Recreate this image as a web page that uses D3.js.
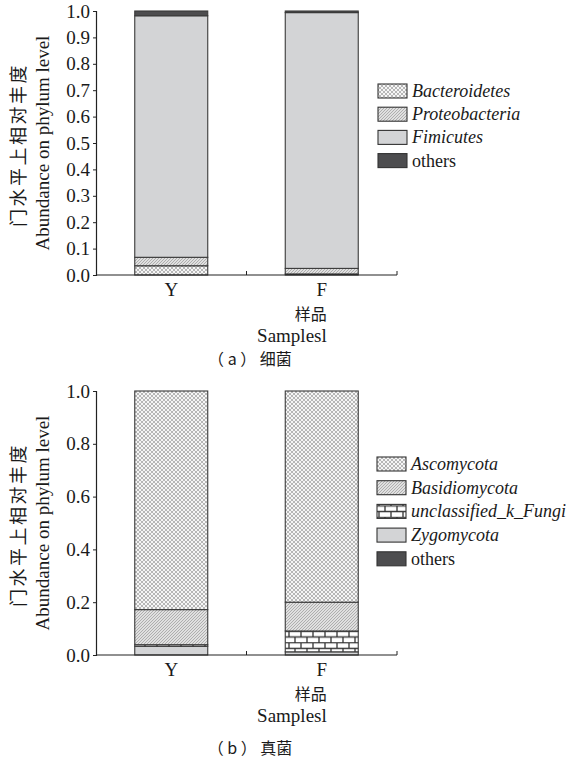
<!DOCTYPE html>
<html>
<head>
<meta charset="utf-8">
<script src="https://cdn.jsdelivr.net/npm/d3@7"></script>
<style>
  body { margin: 0; background: #fff; }
</style>
</head>
<body>
<div id="chart"></div>
<script>
// ---- data ----
const samples = ['Y', 'F'];

// (a) bacteria, stacked bottom -> top
const bacteriaKeys = ['Bacteroidetes', 'Proteobacteria', 'Fimicutes', 'others'];
const bacteriaY = [0.035, 0.032, 0.915, 0.018];
const bacteriaF = [0.004, 0.021, 0.969, 0.006];

// (b) fungi, stacked bottom -> top
const fungiKeys = ['Zygomycota', 'unclassified_k_Fungi', 'Basidiomycota', 'Ascomycota', 'others'];
const fungiY = [0.033, 0.006, 0.133, 0.828, 0.0];
const fungiF = [0.012, 0.079, 0.109, 0.800, 0.0];

// legend order (top -> bottom)
const bacteriaLegend = ['Bacteroidetes', 'Proteobacteria', 'Fimicutes', 'others'];
const fungiLegend = ['Ascomycota', 'Basidiomycota', 'unclassified_k_Fungi', 'Zygomycota', 'others'];

const ticksA = [0, 0.1, 0.2, 0.3, 0.4, 0.5, 0.6, 0.7, 0.8, 0.9, 1.0];
const ticksB = [0, 0.2, 0.4, 0.6, 0.8, 1.0];

const yLabelCn = '门水平上相对丰度';
const yLabelEn = 'Abundance on phylum level';
const xLabelCn = '样品';
const xLabelEn = 'Samplesl';

// ---- chart ----
const SERIF = 'Liberation Serif';
const CJK = 'Noto Sans CJK SC';

const W = 577, H = 759;
const svg = d3.select('#chart').append('svg').attr('width', W).attr('height', H);
const defs = svg.append('defs');

// 网格（菱形交叉线）
const cross = defs.append('pattern').attr('id', 'cross')
  .attr('patternUnits', 'userSpaceOnUse').attr('width', 4).attr('height', 4);
cross.append('rect').attr('width', 4).attr('height', 4).attr('fill', '#f6f6f6');
cross.append('path').attr('d', 'M0,0L4,4M0,4L4,0')
  .attr('stroke', '#959595').attr('stroke-width', 0.65);

// 斜线
const hatch = defs.append('pattern').attr('id', 'hatch')
  .attr('patternUnits', 'userSpaceOnUse').attr('width', 3).attr('height', 3);
hatch.append('rect').attr('width', 3).attr('height', 3).attr('fill', '#e0e0e0');
hatch.append('path').attr('d', 'M-1,1L1,-1M0,3L3,0M2,4L4,2')
  .attr('stroke', '#939393').attr('stroke-width', 0.65);

// 砖块
const brick = defs.append('pattern').attr('id', 'brick')
  .attr('patternUnits', 'userSpaceOnUse').attr('width', 12).attr('height', 11.4);
brick.append('rect').attr('width', 12).attr('height', 11.4).attr('fill', '#fff');
brick.append('path')
  .attr('d', 'M0,0.5H12M0,6.2H12M1,0.5V6.2M7,6.2V11.4')
  .attr('stroke', '#333').attr('stroke-width', 1.3);

const fills = {
  Bacteroidetes: 'url(#cross)',
  Ascomycota: 'url(#cross)',
  Proteobacteria: 'url(#hatch)',
  Basidiomycota: 'url(#hatch)',
  Fimicutes: '#d3d4d6',
  Zygomycota: '#d3d4d6',
  unclassified_k_Fungi: 'url(#brick)',
  others: '#4d4d4f'
};

function drawPanel(opt) {
  const g = svg.append('g').attr('transform', `translate(0,${opt.dy})`);
  const x = d3.scaleBand().domain(samples).range([96, 397]).paddingInner(0.515).paddingOuter(0.2575);
  const y = d3.scaleLinear().domain([0, 1]).range([275, 11]);

  // stacked bars
  const rows = samples.map((s, i) => {
    const r = { sample: s };
    opt.keys.forEach((k, j) => { r[k] = opt.values[i][j]; });
    return r;
  });
  const series = d3.stack().keys(opt.keys)(rows);
  series.forEach(layer => {
    g.append('g').selectAll('rect').data(layer).join('rect')
      .attr('x', d => x(d.data.sample))
      .attr('y', d => y(d[1]))
      .attr('width', x.bandwidth())
      .attr('height', d => Math.max(0, y(d[0]) - y(d[1])))
      .attr('fill', fills[layer.key])
      .attr('stroke', '#3a3a3a')
      .attr('stroke-width', d => (d[1] - d[0]) > 0 ? 1.1 : 0);
  });

  // y axis
  const yAxis = g.append('g').attr('transform', 'translate(96,0)')
    .call(d3.axisLeft(y).tickValues(opt.ticks).tickFormat(d3.format('.1f')).tickSize(3).tickPadding(3));
  yAxis.attr('font-family', SERIF).attr('font-size', 19);
  yAxis.select('.domain').attr('stroke', '#222').attr('stroke-width', 1.2);
  yAxis.selectAll('.tick line').attr('stroke', '#222');
  yAxis.selectAll('text').attr('font-family', SERIF).attr('font-size', 19).attr('fill', '#1a1a1a');

  // x axis
  const xAxis = g.append('g').attr('transform', 'translate(0,275)')
    .call(d3.axisBottom(x).tickSize(0).tickPadding(8));
  xAxis.attr('font-family', SERIF).attr('font-size', 19);
  xAxis.select('.domain').remove();
  xAxis.selectAll('text').attr('font-family', SERIF).attr('font-size', 19).attr('fill', '#1a1a1a');
  g.append('line').attr('x1', 96).attr('x2', 397).attr('y1', 275).attr('y2', 275)
    .attr('stroke', '#222').attr('stroke-width', 1.2);
  // band boundary ticks (pointing up)
  [x.range()[0] + x.step() * (samples.length / 2 + x.paddingOuter() - x.paddingInner() / 2), x.range()[1]].forEach(bx => {
    g.append('line').attr('x1', bx).attr('x2', bx).attr('y1', 275).attr('y2', 271)
      .attr('stroke', '#222').attr('stroke-width', 1);
  });

  // y labels
  g.append('text').attr('transform', 'translate(17,145) rotate(-90)')
    .attr('text-anchor', 'middle').attr('dominant-baseline', 'central')
    .attr('font-family', CJK).attr('font-size', 18).attr('letter-spacing', 2.5)
    .attr('fill', '#1a1a1a').text(yLabelCn);
  g.append('text').attr('transform', 'translate(42,143) rotate(-90)')
    .attr('text-anchor', 'middle').attr('dominant-baseline', 'central')
    .attr('font-family', SERIF).attr('font-size', 19).attr('fill', '#1a1a1a').text(yLabelEn);

  // x labels
  const xr = x('F') + x.bandwidth() / 2 + 5;
  g.append('text').attr('x', xr).attr('y', 319.5).attr('text-anchor', 'end')
    .attr('font-family', CJK).attr('font-size', 16).attr('fill', '#1a1a1a').text(xLabelCn);
  g.append('text').attr('x', xr).attr('y', 341.5).attr('text-anchor', 'end')
    .attr('font-family', SERIF).attr('font-size', 19).attr('fill', '#1a1a1a').text(xLabelEn);
  g.append('text').attr('x', 250).attr('y', opt.captionY).attr('text-anchor', 'middle')
    .attr('font-family', CJK).attr('font-size', 16).attr('fill', '#1a1a1a')
    .attr('xml:space', 'preserve').text(opt.caption);

  // legend
  const lg = g.append('g');
  opt.legend.forEach((k, i) => {
    const cy = opt.legendY + i * opt.legendStep;
    lg.append('rect').attr('x', opt.legendX).attr('y', cy - 7).attr('width', 29).attr('height', 14)
      .attr('fill', fills[k]).attr('stroke', '#333').attr('stroke-width', 1.1);
    lg.append('text').attr('x', opt.legendX + 34).attr('y', cy).attr('dominant-baseline', 'central')
      .attr('font-family', SERIF).attr('font-size', 18)
      .attr('font-style', k === 'others' ? 'normal' : 'italic')
      .attr('fill', '#1a1a1a').text(k);
  });
}

drawPanel({
  dy: 0, keys: bacteriaKeys, values: [bacteriaY, bacteriaF], ticks: ticksA,
  legend: bacteriaLegend, legendX: 378, legendY: 91, legendStep: 23.2,
  caption: '（ a ） 细菌', captionY: 365
});
drawPanel({
  dy: 380, keys: fungiKeys, values: [fungiY, fungiF], ticks: ticksB,
  legend: fungiLegend, legendX: 377, legendY: 84, legendStep: 23.7,
  caption: '（ b ） 真菌', captionY: 374
});
</script>
</body>
</html>
